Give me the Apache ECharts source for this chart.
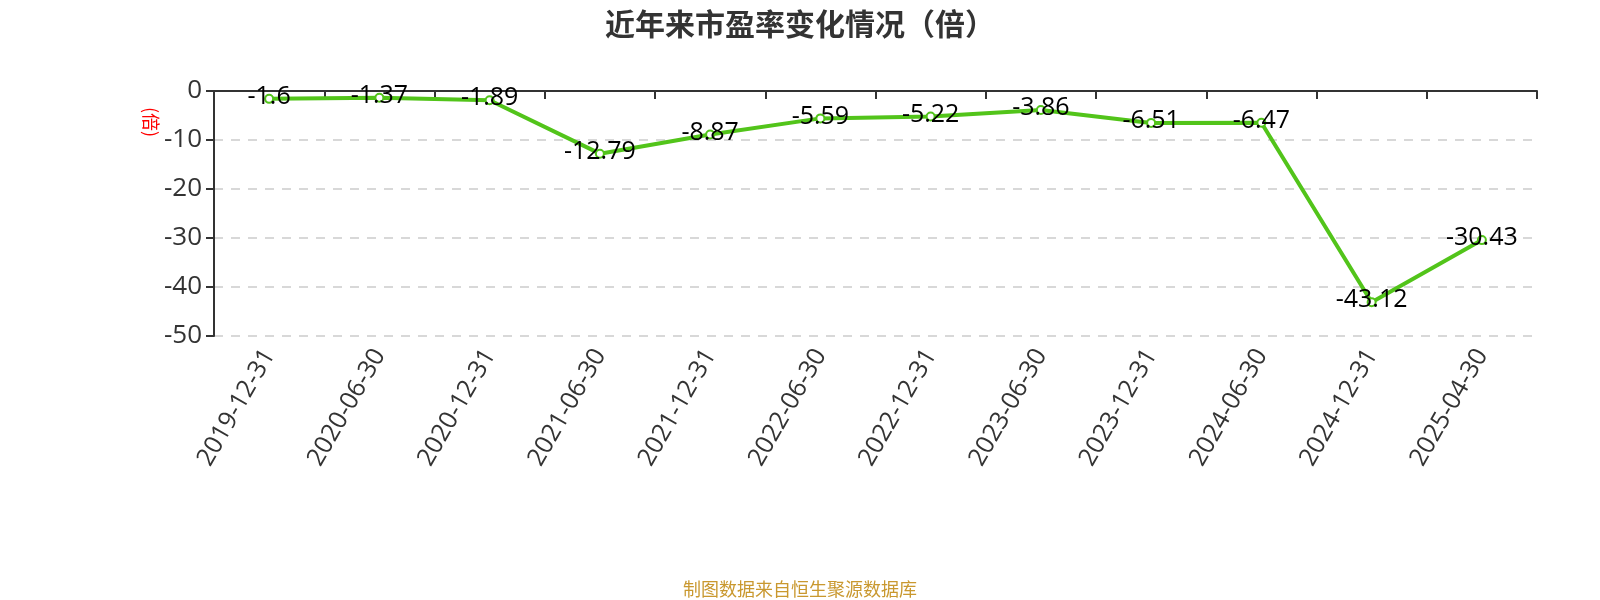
<!DOCTYPE html>
<html>
<head>
<meta charset="utf-8">
<script src="https://cdn.jsdelivr.net/npm/echarts@6/dist/echarts.min.js"></script>
<style>
html,body{margin:0;padding:0;background:#fff;}
#main{width:1600px;height:600px;}
</style>
</head>
<body>
<div id="main"></div>
<script>
const titleText = '近年来市盈率变化情况（倍）';
const sourceText = '制图数据来自恒生聚源数据库';
const unitText = '(倍)';
const categories = ['2019-12-31','2020-06-30','2020-12-31','2021-06-30','2021-12-31','2022-06-30','2022-12-31','2023-06-30','2023-12-31','2024-06-30','2024-12-31','2025-04-30'];
const peValues = [-1.6, -1.37, -1.89, -12.79, -8.87, -5.59, -5.22, -3.86, -6.51, -6.47, -43.12, -30.43];
const yTicks = { min: -50, max: 0, interval: 10 };

const latin = '"Open Sans", "Noto Sans CJK SC", sans-serif';
const cjk = '"Noto Sans CJK SC", sans-serif';

const chart = echarts.init(document.getElementById('main'));
chart.setOption({
  animation: false,
  backgroundColor: '#fff',
  title: {
    text: titleText,
    left: 'center',
    top: 4,
    textStyle: { fontFamily: cjk, fontSize: 30, fontWeight: 'bold', color: '#333' }
  },
  grid: { left: 214, right: 63, top: 91, bottom: 264, containLabel: false },
  xAxis: {
    type: 'category',
    data: categories,
    boundaryGap: true,
    axisLine: { onZero: true, lineStyle: { color: '#333', width: 2 } },
    axisTick: { show: true, length: 8, lineStyle: { color: '#333', width: 2 } },
    axisLabel: { rotate: 60, margin: 15, fontSize: 25, color: '#333', fontFamily: latin, interval: 0 }
  },
  yAxis: {
    type: 'value',
    min: yTicks.min,
    max: yTicks.max,
    interval: yTicks.interval,
    axisLine: { show: true, lineStyle: { color: '#333', width: 2 } },
    axisTick: { show: true, length: 8, lineStyle: { color: '#333', width: 2 } },
    axisLabel: { fontSize: 26, color: '#333', margin: 12, fontFamily: latin },
    splitLine: { show: true, lineStyle: { type: [9, 8], color: '#ccc', width: 1.5 } }
  },
  graphic: [
    {
      type: 'text',
      x: 151, y: 122,
      rotation: -Math.PI / 2,
      style: { text: unitText, fill: '#ff0000', font: '18px "Noto Sans CJK SC", sans-serif', textAlign: 'center', textVerticalAlign: 'middle' }
    },
    {
      type: 'text',
      x: 800, y: 589,
      style: { text: sourceText, fill: '#c9982f', font: '18px "Noto Sans CJK SC", sans-serif', textAlign: 'center', textVerticalAlign: 'middle' }
    }
  ],
  series: [{
    type: 'line',
    data: peValues,
    symbol: 'emptyCircle',
    symbolSize: 8,
    lineStyle: { color: '#52c41a', width: 4 },
    itemStyle: { color: '#52c41a', borderWidth: 2 },
    label: {
      show: true,
      position: 'inside',
      offset: [0, -2],
      fontSize: 25,
      color: '#000',
      fontFamily: latin
    }
  }]
});
</script>
</body>
</html>
